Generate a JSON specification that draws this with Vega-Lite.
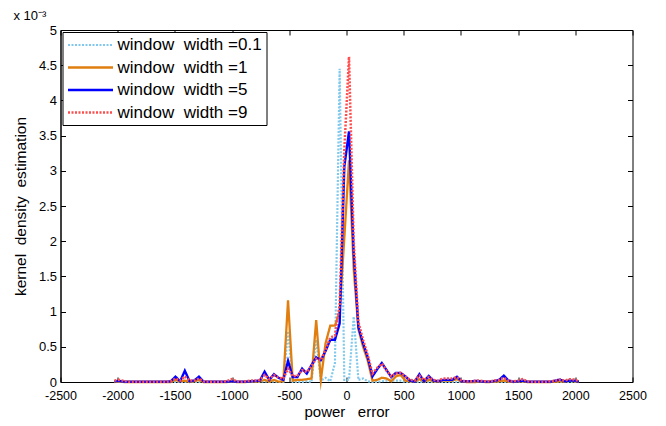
{
  "$schema": "https://vega.github.io/schema/vega-lite/v6.json",
  "width": 572,
  "height": 352,
  "autosize": {"type": "none"},
  "padding": {"left": 60.5, "top": 30, "right": 33.5, "bottom": 44},
  "background": "white",
  "config": {
    "font": "Liberation Sans",
    "view": {"stroke": "black", "strokeWidth": 1},
    "axis": {"labelColor": "black", "titleColor": "black", "tickColor": "black", "domainColor": "black", "grid": false, "labelFont": "Liberation Sans", "titleFont": "Liberation Sans", "titleFontWeight": "normal"}
  },
  "title": {"text": "x 10⁻³", "anchor": "start", "fontSize": 13, "fontWeight": "normal", "offset": 1, "color": "black", "font": "Liberation Sans"},
  "data": {"values": [
    {"x": -2028, "a": 0, "b": 0, "c": 0.01, "d": 0.02},
    {"x": -1987, "a": 0, "b": 0.005, "c": 0.015, "d": 0.03},
    {"x": -1946, "a": 0, "b": 0, "c": 0.005, "d": 0.015},
    {"x": -1905, "a": 0, "b": 0, "c": 0.003, "d": 0.003},
    {"x": -1864, "a": 0, "b": 0, "c": 0.003, "d": 0.003},
    {"x": -1823, "a": 0, "b": 0, "c": 0.003, "d": 0.003},
    {"x": -1782, "a": 0, "b": 0, "c": 0.003, "d": 0.003},
    {"x": -1741, "a": 0, "b": 0, "c": 0.003, "d": 0.003},
    {"x": -1700, "a": 0, "b": 0, "c": 0.003, "d": 0.003},
    {"x": -1659, "a": 0, "b": 0, "c": 0.003, "d": 0.003},
    {"x": -1618, "a": 0, "b": 0, "c": 0.003, "d": 0.003},
    {"x": -1577, "a": 0, "b": 0, "c": 0.003, "d": 0.003},
    {"x": -1536, "a": 0, "b": 0, "c": 0.01, "d": 0.01},
    {"x": -1495, "a": 0, "b": 0.03, "c": 0.075, "d": 0.05},
    {"x": -1454, "a": 0, "b": 0.005, "c": 0.01, "d": 0.02},
    {"x": -1413, "a": 0, "b": 0.02, "c": 0.16, "d": 0.08},
    {"x": -1372, "a": 0, "b": 0, "c": 0.01, "d": 0.02},
    {"x": -1331, "a": 0, "b": 0.01, "c": 0.02, "d": 0.02},
    {"x": -1290, "a": 0, "b": 0.03, "c": 0.075, "d": 0.05},
    {"x": -1249, "a": 0, "b": 0, "c": 0.005, "d": 0.01},
    {"x": -1208, "a": 0, "b": 0, "c": 0.003, "d": 0.003},
    {"x": -1167, "a": 0, "b": 0, "c": 0.003, "d": 0.003},
    {"x": -1126, "a": 0, "b": 0, "c": 0.003, "d": 0.003},
    {"x": -1085, "a": 0, "b": 0, "c": 0.003, "d": 0.003},
    {"x": -1044, "a": 0, "b": 0, "c": 0.005, "d": 0.015},
    {"x": -1003, "a": 0, "b": 0.005, "c": 0.01, "d": 0.04},
    {"x": -962, "a": 0, "b": 0, "c": 0.005, "d": 0.01},
    {"x": -921, "a": 0, "b": 0, "c": 0.003, "d": 0.003},
    {"x": -880, "a": 0, "b": 0, "c": 0.005, "d": 0.01},
    {"x": -839, "a": 0, "b": 0.005, "c": 0.01, "d": 0.02},
    {"x": -798, "a": 0, "b": 0.005, "c": 0.015, "d": 0.02},
    {"x": -757, "a": 0, "b": 0.01, "c": 0.02, "d": 0.03},
    {"x": -716, "a": 0.01, "b": 0.03, "c": 0.146, "d": 0.1},
    {"x": -675, "a": 0, "b": 0.005, "c": 0.03, "d": 0.04},
    {"x": -634, "a": 0.01, "b": 0.03, "c": 0.11, "d": 0.1},
    {"x": -593, "a": 0, "b": 0.005, "c": 0.06, "d": 0.06},
    {"x": -552, "a": 0, "b": 0.01, "c": 0.03, "d": 0.05},
    {"x": -511, "a": 0.72, "b": 1.16, "c": 0.3, "d": 0.19},
    {"x": -470, "a": 0, "b": 0.02, "c": 0.07, "d": 0.08},
    {"x": -429, "a": 0, "b": 0.03, "c": 0.07, "d": 0.09},
    {"x": -388, "a": 0, "b": 0.03, "c": 0.19, "d": 0.17},
    {"x": -347, "a": 0.01, "b": 0.04, "c": 0.12, "d": 0.14},
    {"x": -306, "a": 0, "b": 0.05, "c": 0.24, "d": 0.23},
    {"x": -265, "a": 0.6, "b": 0.88, "c": 0.35, "d": 0.33},
    {"x": -224, "a": 0.02, "b": 0.03, "c": 0.31, "d": 0.31},
    {"x": -183, "a": 0.06, "b": 0.55, "c": 0.44, "d": 0.46},
    {"x": -142, "a": 0.01, "b": 0.8, "c": 0.6, "d": 0.63},
    {"x": -101, "a": 0.27, "b": 0.8, "c": 0.6, "d": 0.66},
    {"x": -60, "a": 4.45, "b": 1.0, "c": 0.83, "d": 1.1},
    {"x": -19, "a": 0.03, "b": 2.05, "c": 3.06, "d": 3.3},
    {"x": 22, "a": 0.03, "b": 3.15, "c": 3.56, "d": 4.62},
    {"x": 63, "a": 0.93, "b": 1.6, "c": 1.83, "d": 2.0},
    {"x": 104, "a": 0.03, "b": 0.75, "c": 0.78, "d": 0.85},
    {"x": 145, "a": 0.05, "b": 0.5, "c": 0.55, "d": 0.6},
    {"x": 186, "a": 0.01, "b": 0.3, "c": 0.35, "d": 0.38},
    {"x": 227, "a": 0, "b": 0.02, "c": 0.08, "d": 0.12},
    {"x": 268, "a": 0, "b": 0.03, "c": 0.18, "d": 0.2},
    {"x": 309, "a": 0.01, "b": 0.06, "c": 0.27, "d": 0.26},
    {"x": 350, "a": 0.02, "b": 0.05, "c": 0.17, "d": 0.16},
    {"x": 391, "a": 0.02, "b": 0.01, "c": 0.07, "d": 0.08},
    {"x": 432, "a": 0.02, "b": 0.08, "c": 0.13, "d": 0.12},
    {"x": 473, "a": 0.02, "b": 0.1, "c": 0.13, "d": 0.13},
    {"x": 514, "a": 0, "b": 0.02, "c": 0.08, "d": 0.08},
    {"x": 555, "a": 0, "b": 0.01, "c": 0.02, "d": 0.03},
    {"x": 596, "a": 0, "b": 0.005, "c": 0.005, "d": 0.02},
    {"x": 637, "a": 0, "b": 0.04, "c": 0.11, "d": 0.09},
    {"x": 678, "a": 0, "b": 0.005, "c": 0.01, "d": 0.03},
    {"x": 719, "a": 0, "b": 0.03, "c": 0.085, "d": 0.07},
    {"x": 760, "a": 0, "b": 0.01, "c": 0.02, "d": 0.03},
    {"x": 801, "a": 0, "b": 0.005, "c": 0.01, "d": 0.02},
    {"x": 842, "a": 0, "b": 0.02, "c": 0.03, "d": 0.05},
    {"x": 883, "a": 0, "b": 0.02, "c": 0.03, "d": 0.05},
    {"x": 924, "a": 0, "b": 0.02, "c": 0.03, "d": 0.05},
    {"x": 965, "a": 0, "b": 0.04, "c": 0.075, "d": 0.07},
    {"x": 1006, "a": 0, "b": 0.005, "c": 0.01, "d": 0.02},
    {"x": 1047, "a": 0, "b": 0, "c": 0.01, "d": 0.01},
    {"x": 1088, "a": 0, "b": 0, "c": 0.01, "d": 0.01},
    {"x": 1129, "a": 0, "b": 0, "c": 0.015, "d": 0.02},
    {"x": 1170, "a": 0, "b": 0.005, "c": 0.01, "d": 0.02},
    {"x": 1211, "a": 0, "b": 0, "c": 0.005, "d": 0.01},
    {"x": 1252, "a": 0, "b": 0, "c": 0.005, "d": 0.01},
    {"x": 1293, "a": 0, "b": 0.005, "c": 0.015, "d": 0.02},
    {"x": 1334, "a": 0, "b": 0.01, "c": 0.03, "d": 0.03},
    {"x": 1375, "a": 0, "b": 0.02, "c": 0.09, "d": 0.06},
    {"x": 1416, "a": 0, "b": 0.005, "c": 0.02, "d": 0.02},
    {"x": 1457, "a": 0, "b": 0, "c": 0.005, "d": 0.01},
    {"x": 1498, "a": 0, "b": 0.005, "c": 0.01, "d": 0.02},
    {"x": 1539, "a": 0, "b": 0.01, "c": 0.02, "d": 0.04},
    {"x": 1580, "a": 0, "b": 0, "c": 0.005, "d": 0.01},
    {"x": 1621, "a": 0, "b": 0, "c": 0.003, "d": 0.003},
    {"x": 1662, "a": 0, "b": 0, "c": 0.003, "d": 0.003},
    {"x": 1703, "a": 0, "b": 0, "c": 0.003, "d": 0.003},
    {"x": 1744, "a": 0, "b": 0, "c": 0.003, "d": 0.003},
    {"x": 1785, "a": 0, "b": 0, "c": 0.005, "d": 0.01},
    {"x": 1826, "a": 0, "b": 0.005, "c": 0.02, "d": 0.02},
    {"x": 1867, "a": 0, "b": 0.01, "c": 0.035, "d": 0.03},
    {"x": 1908, "a": 0, "b": 0.005, "c": 0.01, "d": 0.02},
    {"x": 1949, "a": 0, "b": 0.02, "c": 0.02, "d": 0.04},
    {"x": 1990, "a": 0, "b": 0.01, "c": 0.02, "d": 0.035},
    {"x": 2031, "a": 0, "b": 0, "c": 0.005, "d": 0.01}
  ]},
  "transform": [{"fold": ["a", "b", "c", "d"], "as": ["key", "value"]}],
  "layer": [
    {
      "mark": {"type": "line", "strokeJoin": "miter", "strokeMiterLimit": 10},
      "encoding": {
        "x": {"field": "x", "type": "quantitative", "scale": {"domain": [-2500, 2500], "nice": false, "zero": false},
          "axis": {"orient": "bottom", "values": [-2500, -2000, -1500, -1000, -500, 0, 500, 1000, 1500, 2000, 2500], "labelExpr": "'' + datum.value", "tickSize": -5, "labelPadding": 12, "labelFontSize": 12.5, "title": "power\u00a0\u00a0 error", "titleFontSize": 15, "titlePadding": 3, "labelFlush": false}},
        "y": {"field": "value", "type": "quantitative", "scale": {"domain": [0, 5], "nice": false},
          "axis": {"orient": "left", "values": [0, 0.5, 1, 1.5, 2, 2.5, 3, 3.5, 4, 4.5, 5], "format": "~g", "tickSize": -5, "labelPadding": 9, "labelFontSize": 13, "title": "kernel\u00a0 density\u00a0 estimation", "titleFontSize": 15.5, "titlePadding": 10}},
        "color": {"field": "key", "type": "nominal",
          "scale": {"domain": ["a", "b", "c", "d"], "range": ["#80c9ec", "#e07f10", "#0000ff", "#ff4d4d"]},
          "legend": {"orient": "top-left", "offset": 2, "title": null, "strokeColor": "black", "fillColor": "white", "padding": 4, "labelFontSize": 17, "labelFont": "Liberation Sans", "labelColor": "black", "symbolType": "M-3,0H3", "symbolSize": 225, "symbolOffset": 15, "symbolStrokeWidth": 2.5, "rowPadding": 5.5, "labelOffset": 18, "cornerRadius": 0,
            "labelExpr": "datum.label == 'a' ? 'window\u00a0 width =0.1' : datum.label == 'b' ? 'window\u00a0 width =1' : datum.label == 'c' ? 'window\u00a0 width =5' : 'window\u00a0 width =9'"}},
        "strokeDash": {"field": "key", "type": "nominal",
          "scale": {"domain": ["a", "b", "c", "d"], "range": [[2, 1.5], [1, 0], [1, 0], [2, 1.5]]}},
        "strokeWidth": {"field": "key", "type": "nominal", "legend": null,
          "scale": {"domain": ["a", "b", "c", "d"], "range": [2.2, 2.5, 2.5, 2.2]}}
      }
    },
    {
      "mark": {"type": "point", "opacity": 0},
      "encoding": {
        "x": {"field": "x", "type": "quantitative",
          "axis": {"orient": "top", "values": [-2500, -2000, -1500, -1000, -500, 0, 500, 1000, 1500, 2000, 2500], "labels": false, "tickSize": -5, "domain": false, "title": null}},
        "y": {"field": "value", "type": "quantitative",
          "axis": {"orient": "right", "values": [0, 0.5, 1, 1.5, 2, 2.5, 3, 3.5, 4, 4.5, 5], "labels": false, "tickSize": -5, "domain": false, "title": null}}
      }
    }
  ],
  "resolve": {"axis": {"x": "independent", "y": "independent"}}
}
